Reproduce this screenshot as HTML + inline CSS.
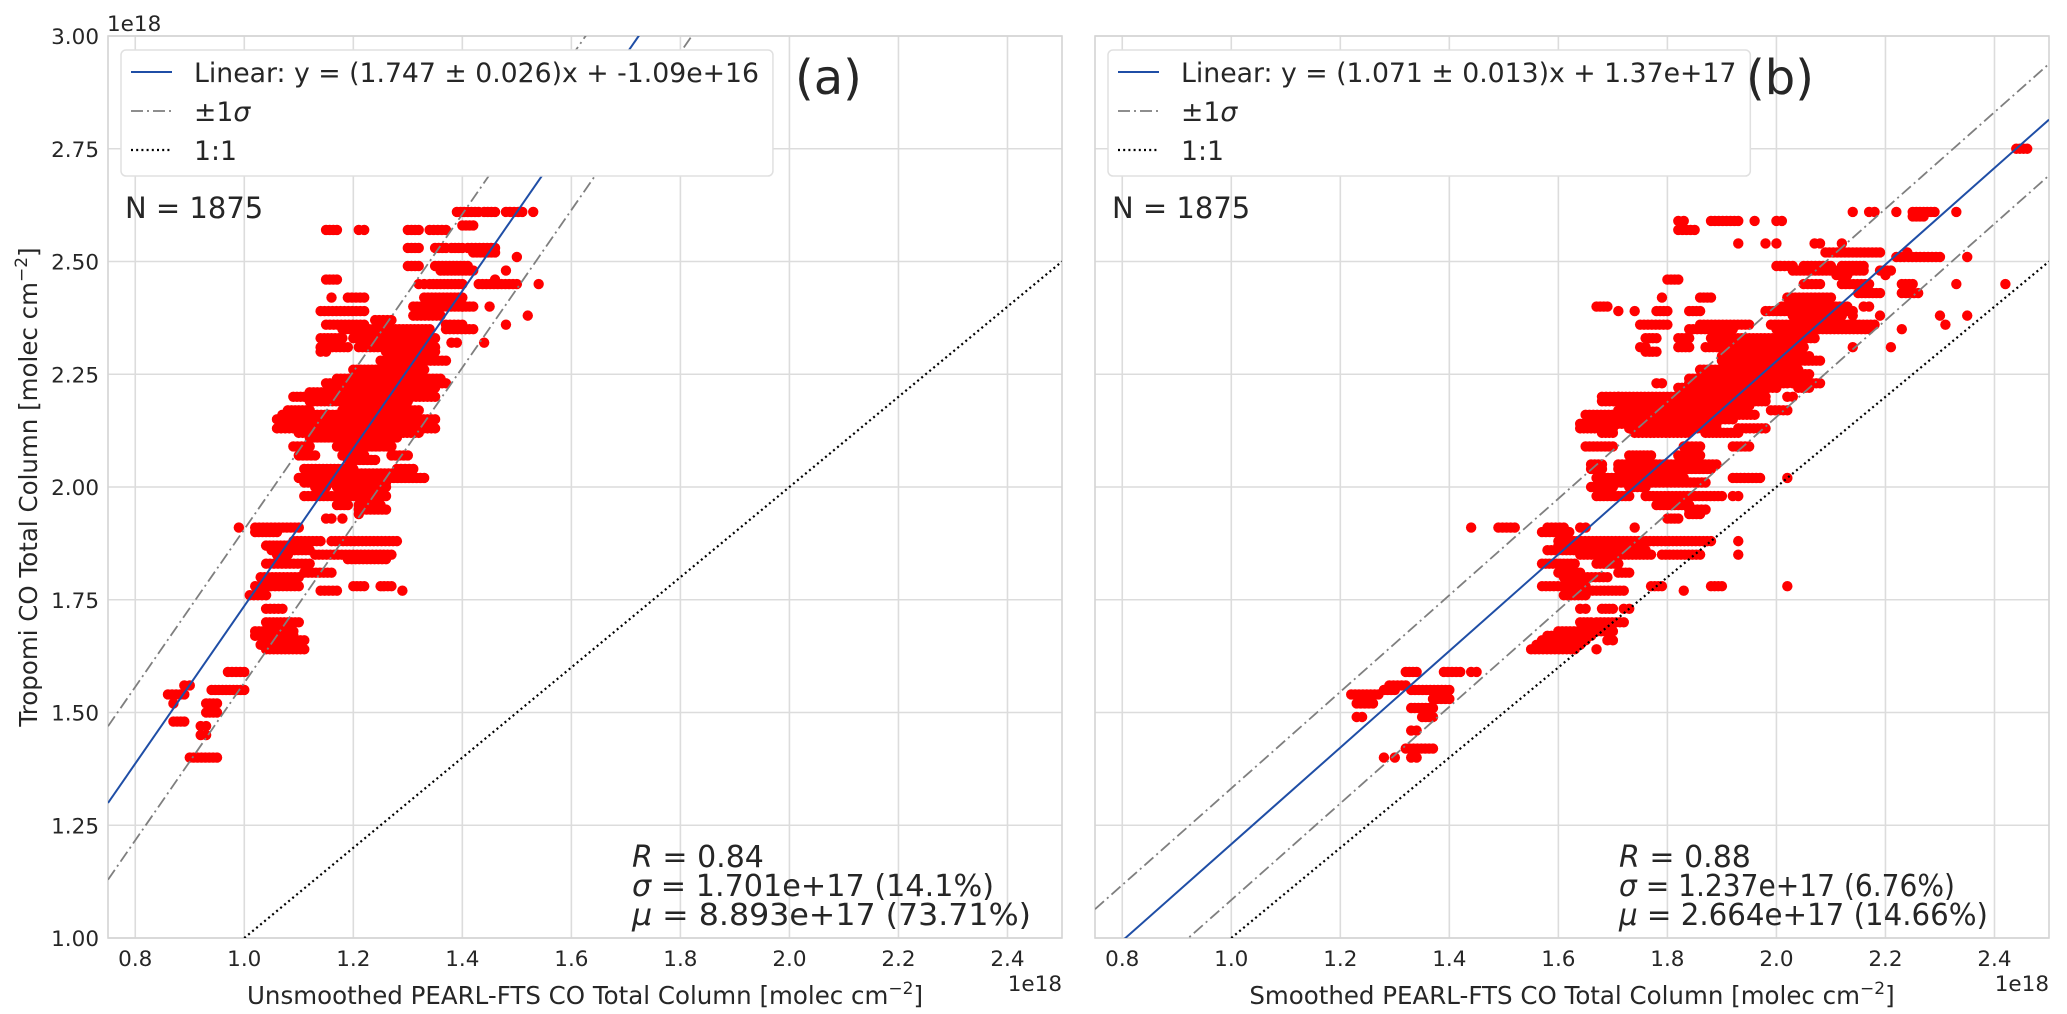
<!DOCTYPE html>
<html><head><meta charset="utf-8">
<style>
html,body{margin:0;padding:0;background:#fff;}
svg{display:block;font-family:"DejaVu Sans","Liberation Sans",sans-serif;}
</style></head>
<body>
<svg id="fig" width="2067" height="1014" viewBox="0 0 2067 1014" xmlns="http://www.w3.org/2000/svg">
<defs>
<clipPath id="clipA"><rect x="108" y="36" width="954" height="902"/></clipPath>
<clipPath id="clipB"><rect x="1095" y="36" width="954" height="902"/></clipPath>
</defs>
</svg>
<script>
// ---- data ----
const xTicks = [0.8, 1.0, 1.2, 1.4, 1.6, 1.8, 2.0, 2.2, 2.4];
const xTickLabels = ["0.8","1.0","1.2","1.4","1.6","1.8","2.0","2.2","2.4"];
const yTicks = [1.00, 1.25, 1.50, 1.75, 2.00, 2.25, 2.50, 2.75, 3.00];
const yTickLabels = ["1.00","1.25","1.50","1.75","2.00","2.25","2.50","2.75","3.00"];
const fitSlope = [1.747, 1.071];
const fitIntercept = [-0.0109, 0.137];
const fitSigma = [0.1701, 0.1237];
const fitLabels = ["Linear: y = (1.747 \u00b1 0.026)x + -1.09e+16", "Linear: y = (1.071 \u00b1 0.013)x + 1.37e+17"];
const panelTags = ["(a)", "(b)"];
const statR = ["0.84", "0.88"];
const statSigma = ["1.701e+17 (14.1%)", "1.237e+17 (6.76%)"];
const statMu = ["8.893e+17 (73.71%)", "2.664e+17 (14.66%)"];
const nPoints = [1875, 1875];
const xLabels = ["Unsmoothed PEARL-FTS CO Total Column [molec cm", "Smoothed PEARL-FTS CO Total Column [molec cm"];

// left panel scatter: horizontal runs of points (y, x start, x end)
const leftY  = [2.61,2.61,2.61,2.61,2.58,2.57,2.57,2.57,2.57,2.53,2.53,2.53,2.53,2.52,2.51,2.49,2.49,2.48,2.48,2.46,2.46,2.45,2.45,2.45,2.45,2.42,2.42,2.42,2.40,2.40,2.40,2.39,2.38,2.38,2.37,2.36,2.36,2.36,2.35,2.35,2.33,2.33,2.32,2.32,2.31,2.31,2.30,2.30,2.28,2.26,2.25,2.24,2.23,2.22,2.21,2.20,2.20,2.19,2.17,2.17,2.16,2.15,2.15,2.14,2.13,2.13,2.12,2.11,2.09,2.09,2.07,2.07,2.07,2.06,2.04,2.04,2.03,2.02,2.01,2.00,2.00,1.98,1.96,1.96,1.95,1.94,1.93,1.93,1.91,1.91,1.90,1.88,1.88,1.87,1.86,1.85,1.85,1.84,1.83,1.81,1.80,1.78,1.78,1.78,1.77,1.77,1.76,1.73,1.70,1.68,1.67,1.66,1.65,1.64,1.59,1.56,1.55,1.54,1.52,1.52,1.50,1.48,1.47,1.45,1.40];
const leftX0 = [1.39,1.44,1.48,1.53,1.40,1.15,1.21,1.30,1.34,1.30,1.35,1.38,1.41,1.42,1.50,1.30,1.35,1.36,1.48,1.15,1.46,1.32,1.34,1.43,1.54,1.16,1.19,1.33,1.31,1.40,1.45,1.14,1.52,1.31,1.24,1.15,1.37,1.48,1.37,1.18,1.14,1.20,1.38,1.44,1.14,1.21,1.14,1.26,1.25,1.20,1.24,1.17,1.15,1.17,1.12,1.09,1.14,1.12,1.08,1.18,1.07,1.06,1.14,1.08,1.06,1.10,1.10,1.12,1.09,1.17,1.10,1.18,1.27,1.19,1.11,1.28,1.13,1.10,1.11,1.13,1.17,1.11,1.17,1.21,1.21,1.21,1.15,1.18,0.99,1.02,1.02,1.09,1.16,1.04,1.05,1.06,1.13,1.19,1.04,1.11,1.03,1.02,1.20,1.25,1.14,1.29,1.01,1.04,1.04,1.02,1.02,1.04,1.03,1.04,0.97,0.89,0.94,0.86,0.87,0.93,0.93,0.87,0.92,0.92,0.90];
const leftX1 = [1.43,1.46,1.51,1.53,1.42,1.17,1.22,1.32,1.37,1.32,1.37,1.40,1.46,1.46,1.50,1.32,1.41,1.42,1.48,1.17,1.46,1.33,1.40,1.50,1.54,1.16,1.22,1.40,1.40,1.42,1.45,1.22,1.52,1.36,1.27,1.22,1.40,1.48,1.42,1.34,1.18,1.35,1.39,1.44,1.19,1.35,1.15,1.35,1.37,1.33,1.31,1.36,1.37,1.35,1.34,1.11,1.35,1.30,1.12,1.32,1.29,1.07,1.35,1.33,1.09,1.35,1.32,1.28,1.12,1.27,1.13,1.22,1.30,1.24,1.20,1.31,1.30,1.33,1.26,1.15,1.26,1.26,1.19,1.25,1.26,1.21,1.16,1.18,0.99,1.10,1.06,1.14,1.28,1.10,1.12,1.08,1.27,1.26,1.12,1.16,1.10,1.10,1.22,1.27,1.17,1.29,1.04,1.07,1.10,1.09,1.09,1.11,1.10,1.11,1.00,0.90,1.00,0.89,0.87,0.95,0.95,0.89,0.93,0.93,0.95];

// right panel scatter: horizontal runs of points (y, x start, x end)
const rightY  = [2.75,2.61,2.61,2.61,2.61,2.61,2.60,2.59,2.59,2.59,2.59,2.57,2.54,2.54,2.54,2.54,2.54,2.52,2.52,2.51,2.51,2.49,2.49,2.49,2.48,2.48,2.47,2.47,2.46,2.45,2.45,2.45,2.45,2.45,2.43,2.43,2.42,2.42,2.42,2.40,2.40,2.40,2.39,2.39,2.39,2.39,2.39,2.39,2.38,2.38,2.38,2.38,2.38,2.36,2.36,2.36,2.36,2.36,2.35,2.35,2.35,2.33,2.33,2.33,2.31,2.31,2.31,2.31,2.31,2.30,2.30,2.29,2.28,2.26,2.25,2.24,2.23,2.23,2.23,2.22,2.22,2.20,2.20,2.20,2.19,2.19,2.18,2.17,2.17,2.16,2.15,2.14,2.13,2.13,2.13,2.12,2.12,2.12,2.09,2.09,2.09,2.07,2.07,2.05,2.05,2.04,2.04,2.02,2.02,2.02,2.01,2.00,2.00,1.98,1.98,1.98,1.96,1.95,1.94,1.93,1.91,1.91,1.91,1.91,1.91,1.90,1.88,1.88,1.87,1.86,1.85,1.85,1.85,1.83,1.83,1.81,1.81,1.80,1.78,1.78,1.78,1.78,1.77,1.77,1.76,1.73,1.73,1.73,1.70,1.70,1.68,1.67,1.66,1.66,1.65,1.64,1.64,1.59,1.59,1.59,1.56,1.55,1.55,1.54,1.53,1.52,1.51,1.49,1.49,1.46,1.42,1.40,1.40,1.40];
const rightX0 = [2.44,2.14,2.17,2.22,2.25,2.33,2.25,1.82,1.88,1.96,2.00,1.82,1.93,1.98,2.00,2.07,2.12,2.09,2.24,2.22,2.35,2.00,2.05,2.12,2.03,2.19,2.11,2.20,1.80,2.05,2.12,2.23,2.33,2.42,2.15,2.23,1.79,1.86,2.02,1.67,2.01,2.16,1.71,1.74,1.78,1.84,1.98,2.10,2.03,2.14,2.19,2.30,2.35,1.75,1.86,1.99,2.07,2.31,1.84,2.00,2.23,1.76,1.82,1.88,1.75,1.82,1.87,2.14,2.21,1.76,1.96,1.90,1.90,1.86,1.87,1.84,1.78,1.84,2.03,1.82,2.04,1.68,1.71,2.02,1.68,1.92,1.72,1.71,1.99,1.65,1.66,1.64,1.64,1.73,1.93,1.68,1.74,1.87,1.65,1.83,1.92,1.73,1.82,1.66,1.71,1.66,1.71,1.67,1.92,2.02,1.68,1.66,1.73,1.67,1.76,1.92,1.78,1.84,1.84,1.80,1.44,1.49,1.58,1.64,1.74,1.57,1.60,1.93,1.60,1.58,1.64,1.79,1.93,1.57,1.67,1.60,1.71,1.61,1.57,1.77,1.88,2.02,1.62,1.83,1.61,1.64,1.68,1.72,1.64,1.67,1.60,1.58,1.57,1.69,1.56,1.55,1.67,1.32,1.39,1.44,1.29,1.33,1.28,1.22,1.37,1.23,1.33,1.35,1.23,1.33,1.32,1.28,1.30,1.33];
const rightX1 = [2.46,2.14,2.18,2.22,2.29,2.33,2.27,1.83,1.93,1.96,2.01,1.85,1.93,1.98,2.00,2.08,2.12,2.19,2.24,2.30,2.35,2.03,2.10,2.16,2.16,2.21,2.13,2.20,1.82,2.08,2.17,2.25,2.33,2.42,2.19,2.26,1.79,1.88,2.10,1.69,2.13,2.17,1.71,1.74,1.80,1.86,2.05,2.14,2.12,2.14,2.19,2.30,2.35,1.80,1.95,2.06,2.18,2.31,1.92,2.17,2.23,1.78,1.84,2.07,1.76,1.84,2.05,2.14,2.21,1.78,2.03,2.06,2.08,2.04,2.06,2.04,1.79,2.02,2.08,2.00,2.06,1.71,1.98,2.03,1.89,1.98,1.95,1.93,2.02,1.96,1.92,1.89,1.70,1.89,1.98,1.70,1.84,1.93,1.70,1.86,1.95,1.77,1.86,1.68,1.89,1.68,1.88,1.83,1.97,2.02,1.87,1.70,1.76,1.73,1.90,1.93,1.84,1.87,1.86,1.82,1.44,1.52,1.61,1.65,1.74,1.62,1.88,1.93,1.70,1.76,1.77,1.86,1.93,1.63,1.71,1.64,1.73,1.69,1.65,1.79,1.90,2.02,1.72,1.83,1.65,1.65,1.70,1.73,1.66,1.72,1.70,1.66,1.65,1.70,1.64,1.63,1.67,1.34,1.42,1.45,1.32,1.40,1.30,1.27,1.40,1.26,1.37,1.37,1.24,1.34,1.37,1.28,1.30,1.34];

// ---- drawing ----
const NS = "http://www.w3.org/2000/svg";
const svg = document.getElementById("fig");
const X_MIN = 0.75, X_MAX = 2.5, Y_MIN = 1.0, Y_MAX = 3.0;
const panels = [
  {left:108, right:1062, top:36, bottom:938, clip:"clipA", id:"a"},
  {left:1095, right:2049, top:36, bottom:938, clip:"clipB", id:"b"}
];
const statSigmaWidth = [362, 336];
const statMuWidth = [399, 369];
function mk(tag, attrs, parent){
  const e = document.createElementNS(NS, tag);
  for (const k in attrs) e.setAttribute(k, attrs[k]);
  (parent||svg).appendChild(e);
  return e;
}
function xScale(p, v){ return p.left + (v - X_MIN) / (X_MAX - X_MIN) * (p.right - p.left); }
function yScale(p, v){ return p.bottom - (v - Y_MIN) / (Y_MAX - Y_MIN) * (p.bottom - p.top); }
const TXT = "#262626";

panels.forEach((p, i) => {
  const g = mk("g", {});
  
  
  xTicks.forEach((t, k) => {
    const gl = mk("line", {x1:xScale(p,t), x2:xScale(p,t), y1:p.top, y2:p.bottom, stroke:"#dcdcdc", "stroke-width":1.6}, g);
    
    
    const tl = mk("text", {x:xScale(p,t), y:966, "text-anchor":"middle", "font-size":21.5, fill:TXT}, g);
    tl.textContent = xTickLabels[k];
    
    
  });
  yTicks.forEach((t, k) => {
    const gl = mk("line", {x1:p.left, x2:p.right, y1:yScale(p,t), y2:yScale(p,t), stroke:"#dcdcdc", "stroke-width":1.6}, g);
    
    
    if (i === 0) {
      const tl = mk("text", {x:p.left - 9, y:yScale(p,t) + 8, "text-anchor":"end", "font-size":21.5, fill:TXT}, g);
      tl.textContent = yTickLabels[k];
      
      
    }
  });
  const fr = mk("rect", {x:p.left, y:p.top, width:p.right-p.left, height:p.bottom-p.top, fill:"none", stroke:"#d4d4d4", "stroke-width":1.6}, g);
  
  

  const cg = mk("g", {"clip-path":"url(#" + p.clip + ")"}, g);
  
  
  const sy = i === 0 ? leftY : rightY, s0 = i === 0 ? leftX0 : rightX0, s1 = i === 0 ? leftX1 : rightX1;
  const sg = mk("g", {fill:"#ff0000"}, cg);
  
  
  for (let k = 0; k < sy.length; k++) {
    const step = 0.007;
    const n = Math.max(0, Math.round((s1[k] - s0[k]) / step));
    for (let j = 0; j <= n; j++) {
      const xv = n === 0 ? s0[k] : s0[k] + (s1[k] - s0[k]) * j / n;
      const c = mk("circle", {cx:xScale(p,xv), cy:yScale(p,sy[k]), r:5.2}, sg);
      
      
    }
  }
  const one = mk("line", {x1:xScale(p,X_MIN), y1:yScale(p,X_MIN), x2:xScale(p,X_MAX), y2:yScale(p,X_MAX), stroke:"#000", "stroke-width":2.2, "stroke-dasharray":"2 3.2"}, cg);
  
  
  [1, -1].forEach(sgn => {
    const off = sgn * fitSigma[i];
    const l = mk("line", {x1:xScale(p,X_MIN), y1:yScale(p,fitSlope[i]*X_MIN+fitIntercept[i]+off), x2:xScale(p,X_MAX), y2:yScale(p,fitSlope[i]*X_MAX+fitIntercept[i]+off), stroke:"#7f7f7f", "stroke-width":1.8, "stroke-dasharray":"12 4 2 4"}, cg);
    
    
  });
  const fl = mk("line", {x1:xScale(p,X_MIN), y1:yScale(p,fitSlope[i]*X_MIN+fitIntercept[i]), x2:xScale(p,X_MAX), y2:yScale(p,fitSlope[i]*X_MAX+fitIntercept[i]), stroke:"#1f4ea6", "stroke-width":2}, cg);
  
  

  const lg = mk("g", {}, g);
  
  
  const bx = p.left + 13;
  const box = mk("rect", {x:bx, y:50, width:600, height:126, rx:5, fill:"#fff", stroke:"#e0e0e0", "stroke-width":1.5}, lg);
  
  
  const rows = [72, 111, 150];
  const s1l = mk("line", {x1:bx+10, x2:bx+51, y1:rows[0], y2:rows[0], stroke:"#1f4ea6", "stroke-width":2}, lg);
  
  
  const s2l = mk("line", {x1:bx+10, x2:bx+51, y1:rows[1], y2:rows[1], stroke:"#7f7f7f", "stroke-width":1.8, "stroke-dasharray":"12 4 2 4"}, lg);
  
  
  const s3l = mk("line", {x1:bx+10, x2:bx+51, y1:rows[2], y2:rows[2], stroke:"#000", "stroke-width":2.2, "stroke-dasharray":"2 3.2"}, lg);
  
  
  const t1 = mk("text", {x:bx+73, y:rows[0]+10, "font-size":26.7, fill:TXT}, lg);
  t1.textContent = fitLabels[i];
  
  
  const t2 = mk("text", {x:bx+73, y:rows[1]+10, "font-size":26.7, fill:TXT}, lg);
  t2.innerHTML = '\u00b11<tspan font-style="italic">\u03c3</tspan>';
  
  
  const t3 = mk("text", {x:bx+73, y:rows[2]+10, "font-size":26.7, fill:TXT}, lg);
  t3.textContent = "1:1";
  
  
  box.setAttribute("width", t1.getComputedTextLength() + 87);

  const tag = mk("text", {x: i === 0 ? 795 : 1746, y:94, "font-size":48, fill:TXT}, g);
  tag.textContent = panelTags[i];
  
  

  const nt = mk("text", {x:p.left+17, y:218, "font-size":29, fill:TXT}, g);
  nt.textContent = "N = " + nPoints[i];
  
  

  const sx = p.left + 524;
  const r1 = mk("text", {x:sx, y:867, "font-size":30, fill:TXT}, g);
  r1.innerHTML = '<tspan font-style="italic">R</tspan> = ' + statR[i];
  
  
  const r2 = mk("text", {x:sx, y:896, "font-size":30, fill:TXT, textLength: statSigmaWidth[i], lengthAdjust:"spacingAndGlyphs"}, g);
  r2.innerHTML = '<tspan font-style="italic">\u03c3</tspan> = ' + statSigma[i];
  
  
  const r3 = mk("text", {x:sx, y:925, "font-size":30, fill:TXT, textLength: statMuWidth[i], lengthAdjust:"spacingAndGlyphs"}, g);
  r3.innerHTML = '<tspan font-style="italic">\u03bc</tspan> = ' + statMu[i];
  
  

  const xl = mk("text", {x:(p.left+p.right)/2, y:1004, "text-anchor":"middle", "font-size":24.5, fill:TXT}, g);
  xl.innerHTML = xLabels[i] + '<tspan dy="-10" font-size="17">\u22122</tspan><tspan dy="10">]</tspan>';
  
  
  const ex = mk("text", {x:p.right, y:991, "text-anchor":"end", "font-size":21.5, fill:TXT}, g);
  ex.textContent = "1e18";
  
  
});

const ey = mk("text", {x:107, y:31, "font-size":21.5, fill:TXT});
ey.textContent = "1e18";


const yl = mk("text", {x:0, y:0, "text-anchor":"middle", "font-size":24.5, fill:TXT, transform:"translate(37,487) rotate(-90)"});
yl.innerHTML = 'Tropomi CO Total Column [molec cm<tspan dy="-10" font-size="17">\u22122</tspan><tspan dy="10">]</tspan>';


</script>
</body></html>
